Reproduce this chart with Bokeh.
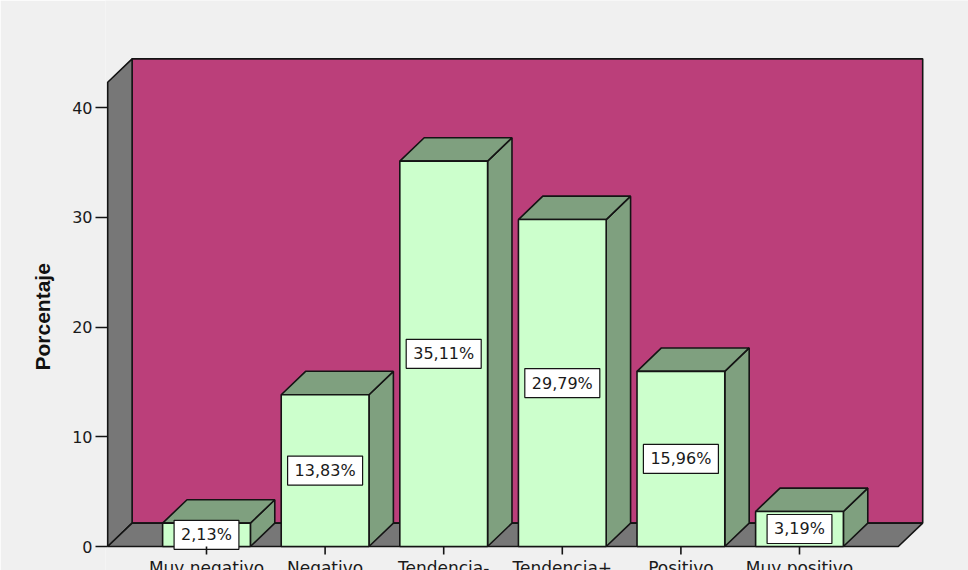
import numpy as np
from bokeh.plotting import figure
from bokeh.models import Range1d, FixedTicker, Title, ColumnDataSource
from bokeh.core.properties import value
from bokeh.embed import file_html
from bokeh.resources import INLINE

# ---------------- data ----------------
categories = ["Muy negativo", "Negativo", "Tendencia-", "Tendencia+", "Positivo", "Muy positivo"]
percentages = [2.13, 13.83, 35.11, 29.79, 15.96, 3.19]
y_ticks = [0, 10, 20, 30, 40]
y_axis_title = "Porcentaje"

# ---------------- style / layout ----------------
W, H = 968, 570
FRAME_LEFT = 105
PX_PER_CAT = 118.6
PX_PER_PCT = 10.975
FIRST_CAT_OFFSET_PX = 101.0   # frame left -> first category centre
BASELINE_OFFSET_PX = 24.0     # frame bottom -> baseline
WALL_TOP = 42.3               # front-plane height of the walls (percent)
DEPTH_X = 24.4 / PX_PER_CAT   # 3D depth, x direction (category units)
DEPTH_Y = 23.4 / PX_PER_PCT   # 3D depth, y direction (percent units)
BAR_HALF = 0.37
WALL_MARGIN = 0.833

BG = "#F0F0F0"
BACK_WALL = "#BB3F7A"
SIDE_WALL = "#777777"
BAR_FRONT = "#CCFFCC"
BAR_SHADE = "#7FA07F"
EDGE = "#141414"
FONT = "DejaVu Sans"

x_start = -FIRST_CAT_OFFSET_PX / PX_PER_CAT
x_end = x_start + (W - FRAME_LEFT) / PX_PER_CAT
y_start = -BASELINE_OFFSET_PX / PX_PER_PCT
y_end = y_start + H / PX_PER_PCT

p = figure(width=W, height=H, x_range=Range1d(x_start, x_end), y_range=Range1d(y_start, y_end),
           output_backend="svg", toolbar_location=None, x_axis_location=None,
           min_border_left=FRAME_LEFT, min_border_right=0, min_border_top=0, min_border_bottom=0,
           background_fill_color=BG, border_fill_color=BG, outline_line_color=None)
p.grid.visible = False

n = len(categories)
idx = list(range(n))
x0 = -WALL_MARGIN
x1 = (n - 1) + WALL_MARGIN

# back wall
p.patch([x0 + DEPTH_X, x1 + DEPTH_X, x1 + DEPTH_X, x0 + DEPTH_X],
        [DEPTH_Y, DEPTH_Y, WALL_TOP + DEPTH_Y, WALL_TOP + DEPTH_Y],
        fill_color=BACK_WALL, line_color=EDGE, line_width=1.6)
# left wall
p.patch([x0, x0 + DEPTH_X, x0 + DEPTH_X, x0],
        [0, DEPTH_Y, WALL_TOP + DEPTH_Y, WALL_TOP],
        fill_color=SIDE_WALL, line_color=EDGE, line_width=1.6)
# floor
p.patch([x0, x1, x1 + DEPTH_X, x0 + DEPTH_X],
        [0, 0, DEPTH_Y, DEPTH_Y],
        fill_color=SIDE_WALL, line_color=EDGE, line_width=1.6)

# bars: side and top faces
side_xs, side_ys, top_xs, top_ys = [], [], [], []
for i, v in zip(idx, percentages):
    r = i + BAR_HALF
    l = i - BAR_HALF
    side_xs.append([r, r + DEPTH_X, r + DEPTH_X, r])
    side_ys.append([0, DEPTH_Y, v + DEPTH_Y, v])
    top_xs.append([l, r, r + DEPTH_X, l + DEPTH_X])
    top_ys.append([v, v, v + DEPTH_Y, v + DEPTH_Y])
p.patches(side_xs, side_ys, fill_color=BAR_SHADE, line_color=EDGE, line_width=1.6)
p.patches(top_xs, top_ys, fill_color=BAR_SHADE, line_color=EDGE, line_width=1.6)

src = ColumnDataSource(dict(
    x=idx, top=percentages, mid=[v / 2 for v in percentages],
    lab=[f"{v:.2f}".replace(".", ",") + "%" for v in percentages],
    cat=categories))
p.vbar(x="x", top="top", bottom=0, width=2 * BAR_HALF, source=src,
       fill_color=BAR_FRONT, line_color=EDGE, line_width=1.6)

# value labels
p.text(x="x", y="mid", text="lab", source=src, text_align="center", text_baseline="middle",
       text_font=value(FONT), text_font_size="16px", text_color="#1a1a1a",
       background_fill_color="white", border_line_color=EDGE, border_line_width=1.2,
       padding=(7, 5))

# category ticks and labels
p.segment(x0="x", y0=0, x1="x", y1=-8 / PX_PER_PCT, source=src, line_color=EDGE, line_width=1.6)
p.text(x="x", y=-11 / PX_PER_PCT, text="cat", source=src, text_align="center", text_baseline="top",
       text_font=value(FONT), text_font_size="17px", text_color="#1a1a1a")

# y axis
ax = p.yaxis[0]
ax.ticker = FixedTicker(ticks=y_ticks)
ax.axis_line_color = None
ax.major_tick_out = 10
ax.major_tick_in = 2
ax.minor_tick_line_color = None
ax.major_tick_line_color = EDGE
ax.major_tick_line_width = 1.5
ax.major_label_standoff = 3
ax.major_label_text_font = FONT
ax.major_label_text_font_size = "16px"
ax.major_label_text_color = "#1a1a1a"

p.add_layout(Title(text=y_axis_title, align="left", offset=200, standoff=32,
                   text_font="Liberation Sans", text_font_style="bold", text_font_size="21px",
                   text_color="#111111"), "left")

open("out.html", "w").write(file_html(p, INLINE))
